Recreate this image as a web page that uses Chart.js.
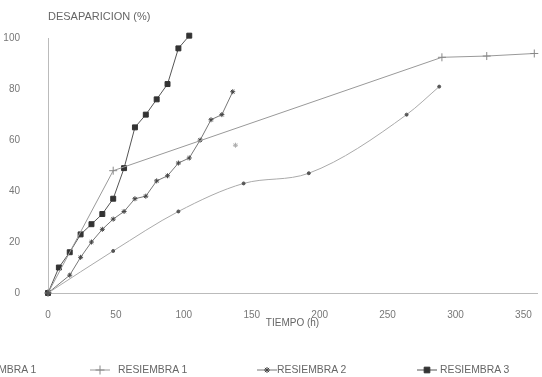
<!DOCTYPE html>
<html>
<head>
<meta charset="utf-8">
<script src="https://cdn.jsdelivr.net/npm/chart.js@4.4.1/dist/chart.umd.min.js"></script>
<style>
  body { margin: 0; background: #fff; }
  #wrap { position: relative; width: 542px; height: 377px; overflow: hidden; }
  #legend { position: absolute; left: 0; top: 364px; width: 542px; height: 14px;
            font-family: "Liberation Sans", Arial, sans-serif; font-size: 10.4px; color: #666; }
  .item { position: absolute; top: 0; white-space: nowrap; }
  .item canvas { position: absolute; top: 1px; }
</style>
</head>
<body>
<div id="wrap">
  <canvas id="myGraph" width="542" height="377"></canvas>
  <div id="legend"></div>
</div>
<script>
// hours / % disappearance

var hours1 = [0, 48, 96, 144, 192, 264, 288];
var pct1 = [0, 16.5, 32, 43, 47, 70, 81];

var hoursR1 = [0, 48, 290, 323, 358];
var pctR1 = [0, 48, 92.5, 93, 94];

var hoursR2 = [0, 16, 24, 32, 40, 48, 56, 64, 72, 80, 88, 96, 104, 112, 120, 128, 136];
var pctR2 = [0, 7, 14, 20, 25, 29, 32, 37, 38, 44, 46, 51, 53, 60, 68, 70, 79];

var hoursR3 = [0, 8, 16, 24, 32, 40, 48, 56, 64, 72, 80, 88, 96, 104];
var pctR3 = [0, 10, 16, 23, 27, 31, 37, 49, 65, 70, 76, 82, 96, 101];

var strayHours = [138];
var strayPct = [58];

var xTicks = [0, 50, 100, 150, 200, 250, 300, 350];
var yTicks = [0, 20, 40, 60, 80, 100];

var legendNames = ["RESIEMBRA 1", "RESIEMBRA 1", "RESIEMBRA 2", "RESIEMBRA 3"];

function toPoints(xs, ys) {
  return xs.map((x, i) => ({ x: x, y: ys[i] }));
}

var styles = [
  { line: "#aaa", point: "#555", pointStyle: "circle", radius: 1.5, tension: 0.4 },
  { line: "#999", point: "#888", pointStyle: "cross", radius: 4, tension: 0 },
  { line: "#777", point: "#444", pointStyle: "star", radius: 2.5, tension: 0 },
  { line: "#555", point: "#333", pointStyle: "rect", radius: 3.5, tension: 0 }
];

var seriesData = [
  toPoints(hours1, pct1),
  toPoints(hoursR1, pctR1),
  toPoints(hoursR2, pctR2),
  toPoints(hoursR3, pctR3)
];

var datasets = seriesData.map((d, i) => ({
  label: legendNames[i],
  data: d,
  borderColor: styles[i].line,
  borderWidth: 1,
  backgroundColor: styles[i].point,
  pointBorderColor: styles[i].point,
  pointBackgroundColor: styles[i].point,
  pointStyle: styles[i].pointStyle,
  pointRadius: styles[i].radius,
  pointBorderWidth: 1,
  tension: styles[i].tension,
  cubicInterpolationMode: i == 0 ? "monotone" : "default",
  clip: false
}));

datasets.push({
  label: "extra",
  data: toPoints(strayHours, strayPct),
  showLine: false,
  pointStyle: "star",
  pointRadius: 2.5,
  pointBorderColor: "#aaa",
  pointBorderWidth: 1,
  clip: false
});

var graph = document.getElementById("myGraph").getContext("2d");

var chart = new Chart(graph, {
  type: "scatter",
  data: { datasets: datasets },
  options: {
    responsive: false,
    animation: false,
    showLine: true,
    layout: { padding: { left: 0, right: 1, top: 0, bottom: 0 } },
    plugins: {
      legend: { display: false },
      tooltip: { enabled: false },
      title: {
        display: true,
        fullSize: false,
        text: "DESAPARICION (%)",
        align: "start",
        color: "#666",
        font: { family: "Liberation Sans, Arial, sans-serif", size: 11, weight: "normal" },
        padding: { top: 10, bottom: 15 }
      }
    },
    scales: {
      x: {
        type: "linear",
        min: 0,
        max: 360,
        grid: { display: false },
        border: { display: true, color: "#bbb", width: 1 },
        afterBuildTicks: s => { s.ticks = xTicks.map(v => ({ value: v })); },
        afterFit: s => { s.height = 84; },
        ticks: {
          padding: 8,
          color: "#777",
          maxRotation: 0,
          font: { family: "Liberation Sans, Arial, sans-serif", size: 10 }
        },
        title: {
          display: true,
          text: "TIEMPO (h)",
          color: "#666",
          font: { family: "Liberation Sans, Arial, sans-serif", size: 10 },
          padding: { top: 0, bottom: 48 }
        }
      },
      y: {
        min: 0,
        max: 100,
        grid: { display: false },
        border: { display: true, color: "#bbb", width: 1 },
        afterBuildTicks: s => { s.ticks = yTicks.map(v => ({ value: v })); },
        afterFit: s => { s.width = 48; },
        ticks: {
          padding: 20,
          color: "#777",
          font: { family: "Liberation Sans, Arial, sans-serif", size: 10 }
        }
      }
    }
  }
});

// legend row (first entry is cut off by the left edge in the original)
var legendPos = [
  { mark: -56, text: -33 },
  { mark: 90, text: 118 },
  { mark: 257, text: 277 },
  { mark: 417, text: 440 }
];

var legend = document.getElementById("legend");
for (var i = 0; i < legendNames.length; i++) {
  var item = document.createElement("div");
  item.className = "item";
  item.style.left = legendPos[i].mark + "px";

  var c = document.createElement("canvas");
  c.width = 20;
  c.height = 10;
  c.style.left = "0px";
  item.appendChild(c);
  var ctx = c.getContext("2d");
  ctx.strokeStyle = styles[i].line;
  ctx.lineWidth = 1;
  ctx.beginPath();
  ctx.moveTo(0, 5);
  ctx.lineTo(20, 5);
  ctx.stroke();
  ctx.strokeStyle = styles[i].point;
  ctx.fillStyle = styles[i].point;
  Chart.helpers.drawPoint(ctx, { pointStyle: styles[i].pointStyle, radius: styles[i].radius + 0.5, borderWidth: 1, rotation: 0 }, 10, 5);

  var span = document.createElement("span");
  span.textContent = legendNames[i];
  span.style.position = "absolute";
  span.style.left = (legendPos[i].text - legendPos[i].mark) + "px";
  span.style.top = "0px";
  item.appendChild(span);
  legend.appendChild(item);
}
</script>
</body>
</html>
